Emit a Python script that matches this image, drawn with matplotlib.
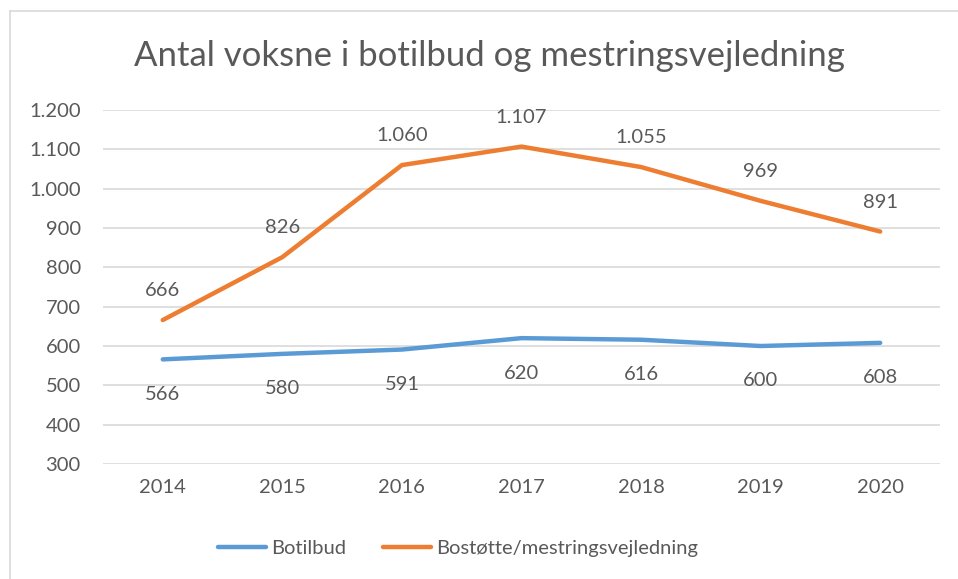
import matplotlib
matplotlib.use('Agg')
from matplotlib import pyplot as plt
from matplotlib.lines import Line2D

# Antal voksne i botilbud og mestringsvejledning
years = ['2014', '2015', '2016', '2017', '2018', '2019', '2020']
botilbud = [566, 580, 591, 620, 616, 600, 608]
bostotte = [666, 826, 1060, 1107, 1055, 969, 891]
yticks = [300, 400, 500, 600, 700, 800, 900, 1000, 1100, 1200]

blue = '#5B9BD5'
orange = '#ED7D31'
txt = '#595959'
fs = 14.5

plt.rcParams['font.family'] = ['Lato', 'DejaVu Sans']

def fmt(v):
    # danish thousands separator
    return f'{v:,}'.replace(',', '.')

fig = plt.figure(figsize=(9.58, 5.79), dpi=100)
ax = fig.add_axes([0.1075, 0.1986, 0.8737, 0.6114])

x = list(range(len(years)))
ax.plot(x, botilbud, color=blue, linewidth=3.2, solid_capstyle='round', label='Botilbud')
ax.plot(x, bostotte, color=orange, linewidth=3.2, solid_capstyle='round', label='Bostøtte/mestringsvejledning')

for i, v in enumerate(botilbud):
    ax.annotate(fmt(v), (i, v), xytext=(0, -19), textcoords='offset points',
                ha='center', va='top', fontsize=fs, color=txt)
for i, v in enumerate(bostotte):
    ax.annotate(fmt(v), (i, v), xytext=(0, 15), textcoords='offset points',
                ha='center', va='bottom', fontsize=fs, color=txt)

ax.set_xlim(-0.5, len(years) - 0.5)
ax.set_ylim(300, 1200)
ax.set_yticks(yticks)
ax.set_yticklabels([fmt(t) for t in yticks])
ax.set_xticks(x)
ax.set_xticklabels(years)
ax.tick_params(length=0, labelsize=fs, labelcolor=txt)
ax.tick_params(axis='y', pad=16)
ax.tick_params(axis='x', pad=11)
ax.grid(axis='y', color='#d9d9d9', linewidth=1.2)
ax.set_axisbelow(True)
for s in ax.spines.values():
    s.set_visible(False)

fig.text(0.511, 0.903, 'Antal voksne i botilbud og mestringsvejledning',
         ha='center', va='center', fontsize=25, color=txt)

handles = [Line2D([], [], color=blue, linewidth=3.2, solid_capstyle='round'),
           Line2D([], [], color=orange, linewidth=3.2, solid_capstyle='round')]
fig.legend(handles, ['Botilbud', 'Bostøtte/mestringsvejledning'],
           loc='center', bbox_to_anchor=(0.478, 0.0535), ncol=2, frameon=False,
           fontsize=fs, labelcolor=txt, handlelength=2.4, handletextpad=0.25,
           columnspacing=1.8)

# chart area border (left and top visible)
fig.add_artist(Line2D([10/958, 10/958], [0, 1 - 11/579], color='#d9d9d9', linewidth=1.2))
fig.add_artist(Line2D([10/958, 1], [1 - 11/579, 1 - 11/579], color='#d9d9d9', linewidth=1.2))

fig.savefig('out.png', dpi=100)
